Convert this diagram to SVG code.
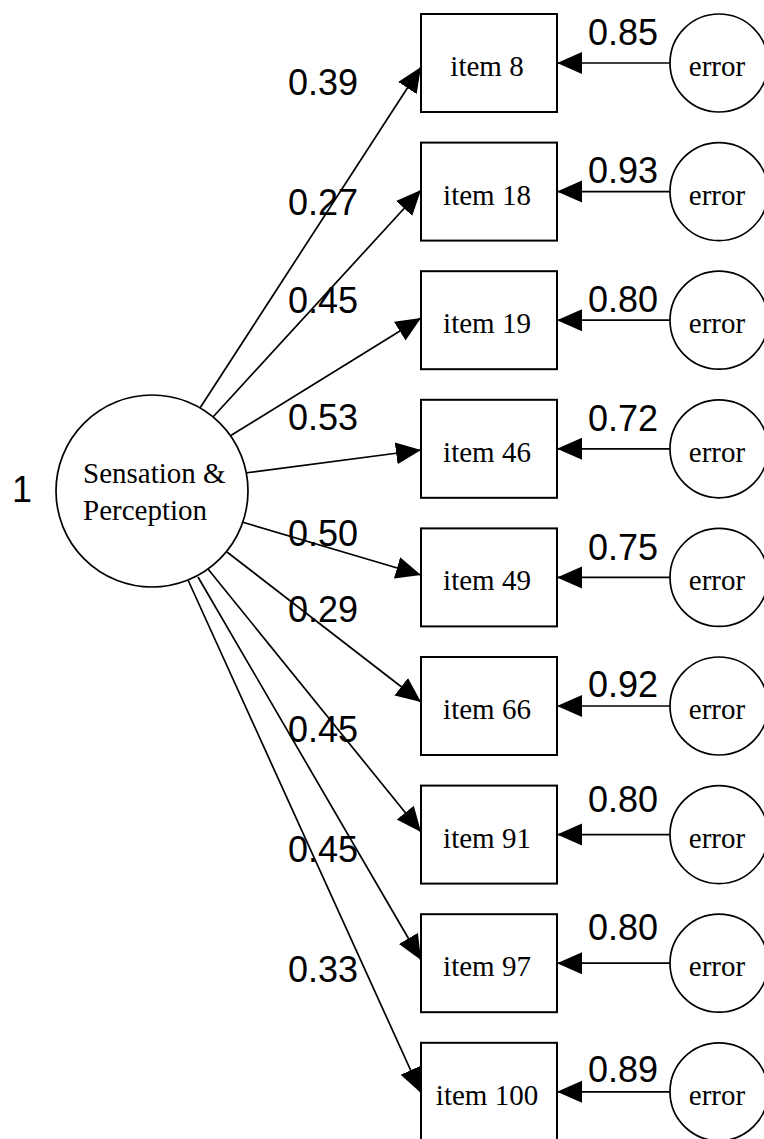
<svg xmlns="http://www.w3.org/2000/svg" width="764" height="1139" viewBox="0 0 764 1139">
<style>
.box{fill:#fff;stroke:#000;stroke-width:2}
.circ{fill:#fff;stroke:#000;stroke-width:1.7}
.lbl{font-family:"Liberation Serif","Times New Roman",serif;font-size:29px;fill:#000}
.num{font-family:"Liberation Sans",Arial,sans-serif;font-size:36px;fill:#000}
.con{stroke:#000;stroke-width:1.7;fill:none;marker-end:url(#ah)}
</style>
<defs>
<marker id="ah" markerUnits="userSpaceOnUse" markerWidth="26" markerHeight="24" viewBox="0 0 26 24" refX="25" refY="12" orient="auto">
<path d="M0,1 L25,12 L0,23 z" fill="#000"/>
</marker>
</defs>
<g id="connectors">
<line class="con" x1="200" y1="408" x2="421" y2="67"/>
<line class="con" x1="213" y1="417" x2="421" y2="190"/>
<line class="con" x1="230" y1="436" x2="421" y2="318"/>
<line class="con" x1="245" y1="473" x2="421" y2="450"/>
<line class="con" x1="242" y1="522" x2="421" y2="575"/>
<line class="con" x1="227" y1="552" x2="421" y2="702"/>
<line class="con" x1="208" y1="569" x2="421" y2="832"/>
<line class="con" x1="198" y1="577" x2="421" y2="960"/>
<line class="con" x1="188" y1="580" x2="421" y2="1093"/>
<line class="con" x1="670" y1="63" x2="557" y2="63"/>
<line class="con" x1="670" y1="191.6" x2="557" y2="191.6"/>
<line class="con" x1="670" y1="320.2" x2="557" y2="320.2"/>
<line class="con" x1="670" y1="448.8" x2="557" y2="448.8"/>
<line class="con" x1="670" y1="577.4" x2="557" y2="577.4"/>
<line class="con" x1="670" y1="706" x2="557" y2="706"/>
<line class="con" x1="670" y1="834.6" x2="557" y2="834.6"/>
<line class="con" x1="670" y1="963.2" x2="557" y2="963.2"/>
<line class="con" x1="670" y1="1091.8" x2="557" y2="1091.8"/>
</g>
<g id="labels">
<text class="num" x="288" y="95">0.39</text>
<text class="num" x="288" y="215">0.27</text>
<text class="num" x="288" y="313">0.45</text>
<text class="num" x="288" y="430">0.53</text>
<text class="num" x="288" y="546">0.50</text>
<text class="num" x="288" y="622">0.29</text>
<text class="num" x="288" y="742">0.45</text>
<text class="num" x="288" y="862">0.45</text>
<text class="num" x="288" y="982">0.33</text>
<text class="num" x="588" y="45">0.85</text>
<text class="num" x="588" y="183">0.93</text>
<text class="num" x="588" y="312">0.80</text>
<text class="num" x="588" y="431">0.72</text>
<text class="num" x="588" y="560">0.75</text>
<text class="num" x="588" y="697">0.92</text>
<text class="num" x="588" y="812">0.80</text>
<text class="num" x="588" y="940">0.80</text>
<text class="num" x="588" y="1082">0.89</text>
<text class="num" x="12" y="502">1</text>
</g>
<g id="latent">
<circle class="circ" cx="152" cy="491" r="96"/>
<text class="lbl" x="83" y="483">Sensation &amp;</text>
<text class="lbl" x="83" y="520">Perception</text>
</g>
<g id="item8"><rect class="box" x="421" y="14" width="136" height="98"/><text class="lbl" x="487" y="76" text-anchor="middle">item 8</text></g>
<g id="item18"><rect class="box" x="421" y="142.6" width="136" height="98"/><text class="lbl" x="487" y="204.6" text-anchor="middle">item 18</text></g>
<g id="item19"><rect class="box" x="421" y="271.2" width="136" height="98"/><text class="lbl" x="487" y="333.2" text-anchor="middle">item 19</text></g>
<g id="item46"><rect class="box" x="421" y="399.8" width="136" height="98"/><text class="lbl" x="487" y="461.8" text-anchor="middle">item 46</text></g>
<g id="item49"><rect class="box" x="421" y="528.4" width="136" height="98"/><text class="lbl" x="487" y="590.4" text-anchor="middle">item 49</text></g>
<g id="item66"><rect class="box" x="421" y="657" width="136" height="98"/><text class="lbl" x="487" y="719" text-anchor="middle">item 66</text></g>
<g id="item91"><rect class="box" x="421" y="785.6" width="136" height="98"/><text class="lbl" x="487" y="847.6" text-anchor="middle">item 91</text></g>
<g id="item97"><rect class="box" x="421" y="914.2" width="136" height="98"/><text class="lbl" x="487" y="976.2" text-anchor="middle">item 97</text></g>
<g id="item100"><rect class="box" x="421" y="1042.8" width="136" height="98"/><text class="lbl" x="487" y="1104.8" text-anchor="middle">item 100</text></g>
<g id="error8"><circle class="circ" cx="719" cy="63" r="49"/><text class="lbl" x="717" y="76" text-anchor="middle">error</text></g>
<g id="error18"><circle class="circ" cx="719" cy="191.6" r="49"/><text class="lbl" x="717" y="204.6" text-anchor="middle">error</text></g>
<g id="error19"><circle class="circ" cx="719" cy="320.2" r="49"/><text class="lbl" x="717" y="333.2" text-anchor="middle">error</text></g>
<g id="error46"><circle class="circ" cx="719" cy="448.8" r="49"/><text class="lbl" x="717" y="461.8" text-anchor="middle">error</text></g>
<g id="error49"><circle class="circ" cx="719" cy="577.4" r="49"/><text class="lbl" x="717" y="590.4" text-anchor="middle">error</text></g>
<g id="error66"><circle class="circ" cx="719" cy="706" r="49"/><text class="lbl" x="717" y="719" text-anchor="middle">error</text></g>
<g id="error91"><circle class="circ" cx="719" cy="834.6" r="49"/><text class="lbl" x="717" y="847.6" text-anchor="middle">error</text></g>
<g id="error97"><circle class="circ" cx="719" cy="963.2" r="49"/><text class="lbl" x="717" y="976.2" text-anchor="middle">error</text></g>
<g id="error100"><circle class="circ" cx="719" cy="1091.8" r="49"/><text class="lbl" x="717" y="1104.8" text-anchor="middle">error</text></g>
</svg>
